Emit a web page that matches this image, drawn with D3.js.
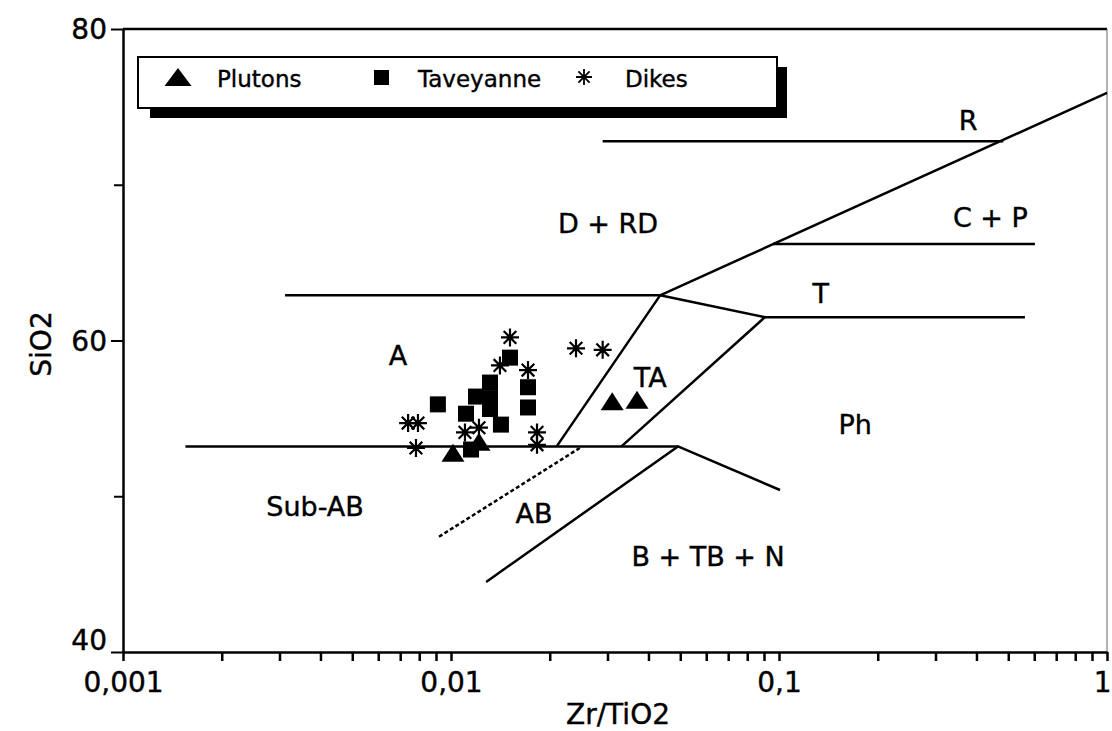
<!DOCTYPE html>
<html>
<head>
<meta charset="utf-8">
<script src="https://cdn.jsdelivr.net/npm/d3@7"></script>
<style>
body { margin: 0; background: #fff; }
text { font-family: "DejaVu Sans", sans-serif; fill: #000; stroke: #000; stroke-width: 0.4px; }
</style>
</head>
<body>
<div id="chart"></div>
<script>
// Zr/TiO2 vs SiO2 (Winchester & Floyd type diagram)
var plutons = [[0.01014, 52.8], [0.01217, 53.5], [0.0310, 56.1], [0.0369, 56.2]];

var taveyanne = [[0.00912, 55.9], [0.01111, 55.3], [0.01192, 56.4], [0.01315, 57.3],
    [0.01315, 56.3], [0.01315, 55.6], [0.01420, 54.6], [0.01513, 58.9],
    [0.01717, 57.0], [0.01717, 55.7], [0.01151, 53.0]];

var dikes = [[0.01513, 60.2], [0.01410, 58.4], [0.01717, 58.1], [0.02405, 59.5],
    [0.0290, 59.4], [0.00740, 54.7], [0.00793, 54.7], [0.00782, 53.1],
    [0.01103, 54.1], [0.01217, 54.4], [0.01829, 54.1], [0.01829, 53.3]];

// field boundaries, each a polyline of [Zr/TiO2, SiO2]
var boundaries = [
    [[0.00155, 53.2], [0.0492, 53.2]],
    [[0.0128, 44.5], [0.0492, 53.2], [0.1007, 50.4]],
    [[0.0210, 53.2], [0.0434, 62.9], [1.0, 75.9]],
    [[0.00312, 62.9], [0.0434, 62.9], [0.0906, 61.5], [0.562, 61.5]],
    [[0.0331, 53.2], [0.0906, 61.5]],
    [[0.0290, 72.8], [0.483, 72.8]],
    [[0.0959, 66.2], [0.603, 66.2]]
];
var dashedBoundary = [[0.00919, 47.4], [0.0247, 53.1]];

var fieldLabels = [
    {t: "R", x: 0.377, y: 73.5},
    {t: "D + RD", x: 0.0301, y: 66.9},
    {t: "C + P", x: 0.441, y: 67.3},
    {t: "T", x: 0.134, y: 62.4},
    {t: "A", x: 0.00689, y: 58.4},
    {t: "TA", x: 0.0405, y: 57.0},
    {t: "Ph", x: 0.1706, y: 54.0},
    {t: "Sub-AB", x: 0.00385, y: 48.7},
    {t: "AB", x: 0.0179, y: 48.3},
    {t: "B + TB + N", x: 0.0608, y: 45.5}
];

var xMajor = [0.001, 0.01, 0.1, 1];
var xMajorLabels = ["0,001", "0,01", "0,1", "1"];
var yTicks = [40, 50, 60, 70, 80];
var yLabels = {40: "40", 60: "60", 80: "80"};

var svgWidth = 1112, svgHeight = 731;
var margin = {top: 29, right: 5, bottom: 79, left: 123},
    width = svgWidth - margin.left - margin.right,
    height = svgHeight - margin.top - margin.bottom;

var svg = d3.select("#chart").append("svg")
    .attr("width", svgWidth)
    .attr("height", svgHeight);

var g = svg.append("g")
    .attr("transform", `translate(${margin.left}, ${margin.top})`);

var x = d3.scaleLog().domain([0.001, 1]).range([0, width]);
var y = d3.scaleLinear().domain([40, 80]).range([height, 0]);

// all log ticks 1..9 per decade
var xTicks = [];
[0.001, 0.01, 0.1].forEach(function(dec) {
    for (var i = 1; i < 10; i++) xTicks.push(+(dec * i).toPrecision(3));
});
xTicks.push(1);

// frame (top + right)
g.append("line").attr("x1", 0).attr("x2", width).attr("y1", 0).attr("y2", 0)
    .attr("stroke", "#000").attr("stroke-width", 2.5);
g.append("line").attr("x1", width).attr("x2", width).attr("y1", 0).attr("y2", height)
    .attr("stroke", "#666").attr("stroke-width", 1);

var xAxis = g.append("g")
    .attr("transform", `translate(0, ${height})`)
    .call(d3.axisBottom(x).tickValues(xTicks).tickSize(9).tickSizeOuter(0).tickPadding(11)
        .tickFormat(function(d) {
            var i = xMajor.findIndex(function(m) { return Math.abs(m - d) < 1e-9; });
            return i >= 0 ? xMajorLabels[i] : "";
        }));
xAxis.select(".domain").attr("stroke-width", 2.5);
xAxis.selectAll(".tick line").attr("stroke-width", 2.5);
xAxis.selectAll("text").style("font-size", "28px")
    .attr("text-anchor", function(d) { return d === 1 ? "end" : "middle"; })
    .attr("x", function(d) { return d === 1 ? 4 : 0; });

var yAxis = g.append("g")
    .call(d3.axisLeft(y).tickValues(yTicks).tickSize(12).tickSizeOuter(0).tickPadding(4)
        .tickFormat(function(d) { return yLabels[d] || ""; }));
yAxis.select(".domain").attr("stroke-width", 2.5);
yAxis.selectAll(".tick line").attr("stroke-width", 2)
    .attr("x2", function(d) { return yLabels[d] ? -12 : -9; });
yAxis.selectAll("text").style("font-size", "28px")
    .attr("dy", function(d) { return d === 40 ? "-0.08em" : "0.34em"; });

// boundaries
var line = d3.line().x(function(d) { return x(d[0]); }).y(function(d) { return y(d[1]); });

g.append("g").selectAll("path")
    .data(boundaries)
    .enter().append("path")
    .attr("d", line)
    .attr("fill", "none")
    .attr("stroke", "#000")
    .attr("stroke-width", 2.5)
    .attr("stroke-linejoin", "round");

g.append("path")
    .datum(dashedBoundary)
    .attr("d", line)
    .attr("fill", "none")
    .attr("stroke", "#000")
    .attr("stroke-width", 2.5)
    .attr("stroke-dasharray", "4,2.5");

g.append("g").selectAll("text")
    .data(fieldLabels)
    .enter().append("text")
    .attr("x", function(d) { return x(d.x); })
    .attr("y", function(d) { return y(d.y); })
    .attr("text-anchor", "middle")
    .style("font-size", "27px")
    .text(function(d) { return d.t; });

// markers
var triPath = "M0,-9L11.5,9L-11.5,9Z";
var starPath = function(r) {
    var d = r * 0.7;
    return `M${-r},0L${r},0M0,${-r}L0,${r}M${-d},${-d}L${d},${d}M${-d},${d}L${d},${-d}`;
};

g.append("g").selectAll("rect")
    .data(taveyanne)
    .enter().append("rect")
    .attr("x", function(d) { return x(d[0]) - 8; })
    .attr("y", function(d) { return y(d[1]) - 8; })
    .attr("width", 16)
    .attr("height", 16)
    .attr("fill", "#000");

g.append("g").selectAll("path")
    .data(plutons)
    .enter().append("path")
    .attr("transform", function(d) { return `translate(${x(d[0])}, ${y(d[1])})`; })
    .attr("d", triPath)
    .attr("fill", "#000");

g.append("g").selectAll("path")
    .data(dikes)
    .enter().append("path")
    .attr("transform", function(d) { return `translate(${x(d[0])}, ${y(d[1])})`; })
    .attr("d", starPath(9))
    .attr("fill", "none")
    .attr("stroke", "#000")
    .attr("stroke-width", 2.2);

// axis titles
svg.append("text")
    .attr("x", 618)
    .attr("y", 724)
    .attr("text-anchor", "middle")
    .style("font-size", "28px")
    .text("Zr/TiO2");

svg.append("text")
    .attr("transform", "translate(51, 344) rotate(-90)")
    .attr("text-anchor", "middle")
    .style("font-size", "28px")
    .text("SiO2");

// legend with drop shadow
var legend = svg.append("g");
legend.append("rect")
    .attr("x", 150).attr("y", 67).attr("width", 637).attr("height", 51)
    .attr("fill", "#000");
legend.append("rect")
    .attr("x", 138).attr("y", 57).attr("width", 639).attr("height", 51)
    .attr("fill", "#fff").attr("stroke", "#000").attr("stroke-width", 2);

legend.append("path")
    .attr("transform", "translate(178, 77)")
    .attr("d", "M0,-9L13.5,9L-13.5,9Z")
    .attr("fill", "#000");
legend.append("rect")
    .attr("x", 374).attr("y", 70).attr("width", 15).attr("height", 15)
    .attr("fill", "#000");
legend.append("path")
    .attr("transform", "translate(584, 77)")
    .attr("d", starPath(8))
    .attr("fill", "none").attr("stroke", "#000").attr("stroke-width", 1.8);

[["Plutons", 217], ["Taveyanne", 418], ["Dikes", 625]].forEach(function(l) {
    legend.append("text")
        .attr("x", l[1]).attr("y", 86.5)
        .style("font-size", "23px")
        .text(l[0]);
});
</script>
</body>
</html>
